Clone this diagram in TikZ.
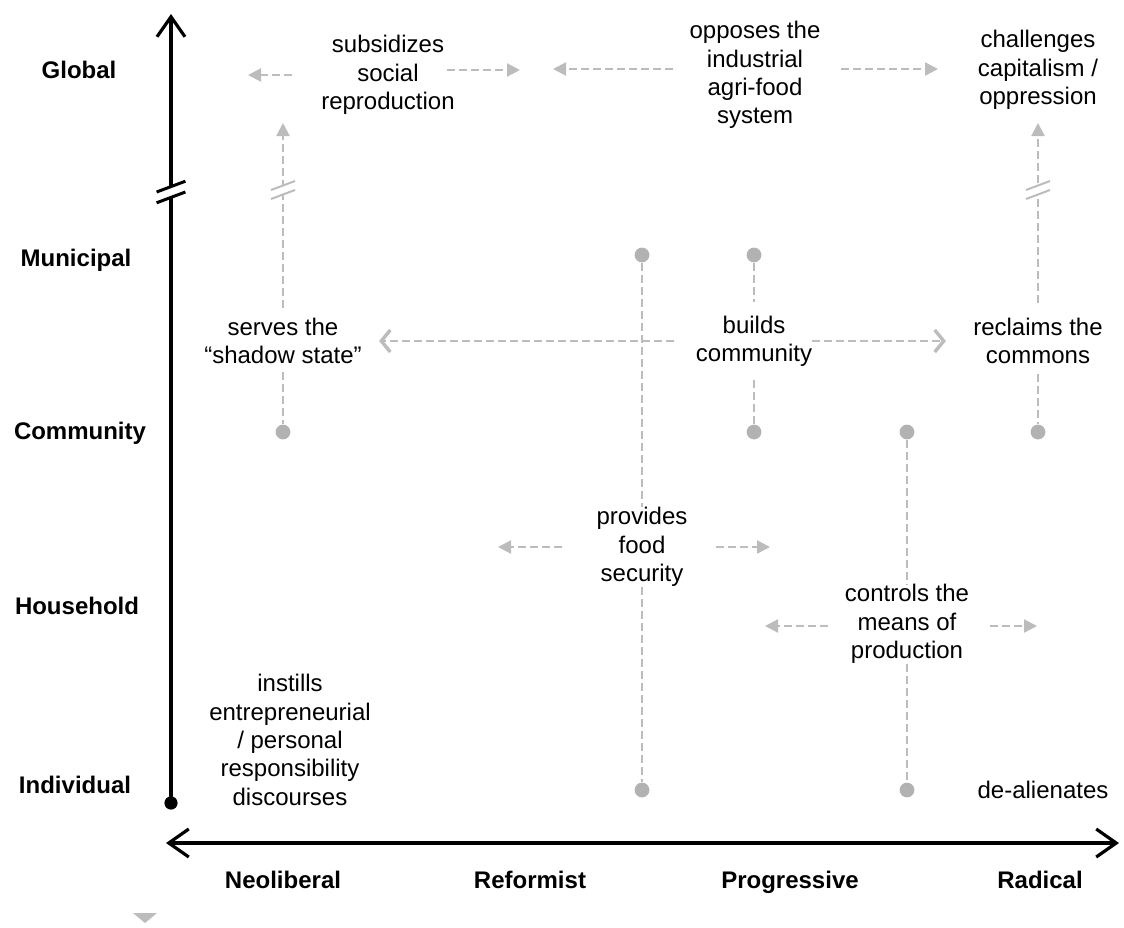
\documentclass[tikz,border=0pt]{standalone}
\usepackage{fontspec}
\setmainfont{Liberation Sans}
\usepackage{tikz}
\usetikzlibrary{arrows.meta}
\definecolor{linegray}{RGB}{188,188,188}
\definecolor{dotgray}{RGB}{178,178,178}
\newcommand{\brkmark}[3]{\begin{scope}[shift={(#1)},scale=#3]
	\fill[white] (-12,9) -- (12,0) -- (12,-9) -- (-12,0) -- cycle;
	\draw[#2] (-12,9) -- (12,0) (-12,0) -- (12,-9);
	\end{scope}}

\begin{document}
\begin{tikzpicture}[x=0.5pt,y=-0.5pt,
	txt/.style={align=center,inner sep=0pt,font=\fontsize{12}{14.2}\selectfont},
	lvl/.style={anchor=base,font=\fontsize{12}{14.2}\selectfont\bfseries},
	gline/.style={draw=linegray,line width=1.1pt,dash pattern=on 4pt off 2pt},
	garr/.style={gline,-{Triangle[length=6.5pt,width=6.5pt,fill=linegray]}},
	carr/.style={gline,-{Straight Barb[length=4.5pt,width=11pt,line width=1.7pt]}},
	gdot/.style={circle,fill=dotgray,inner sep=0pt,minimum size=7.4pt},
	axis/.style={line width=1.8pt,line cap=round}]
			\useasboundingbox (0,0) rectangle (1124,927);
			\node[circle,fill=black,inner sep=0pt,minimum size=6.6pt] (orig) at (171,803) {};
			\coordinate (ytip) at (171,14);
			\coordinate (xl) at (166,843);
			\coordinate (xr) at (1119,843);
			\draw[axis,-{Straight Barb[length=10pt,width=14pt,line width=1.6pt]}] (orig) -- (ytip);
			\draw[axis,{Straight Barb[length=10pt,width=14pt,line width=1.6pt]}-{Straight Barb[length=10pt,width=14pt,line width=1.6pt]}] (xl) -- (xr);
			\brkmark{171,192}{black,line width=1.5pt}{1.2}
			\node[lvl] (glob) at (79,78) {Global};
			\node[lvl] (muni) at (76,266) {Municipal};
			\node[lvl] (comm) at (80,439) {Community};
			\node[lvl] (hous) at (77,614) {Household};
			\node[lvl] (indi) at (75,793) {Individual};
			\node[lvl] (neol) at (283,888) {Neoliberal};
			\node[lvl] (refo) at (530,888) {Reformist};
			\node[lvl] (prog) at (790,888) {Progressive};
			\node[lvl] (radi) at (1040,888) {Radical};
			\node[txt] (subs) at (388,75) {subsidizes\\social\\reproduction};
			\node[txt] (opp) at (755,75) {opposes the\\industrial\\agri-food\\system};
			\node[txt] (chal) at (1038,70) {challenges\\capitalism /\\oppression};
			\node[txt] (serv) at (283,341) {serves the\\“shadow state”};
			\node[txt] (build) at (754,341) {builds\\community};
			\node[txt] (recl) at (1038,341) {reclaims the\\commons};
			\node[txt] (food) at (642,547) {provides\\food\\security};
			\node[txt] (ctrl) at (907,624) {controls the\\means of\\production};
			\node[txt] (inst) at (290,740) {instills\\entrepreneurial\\/ personal\\responsibility\\discourses};
			\node[txt] (deal) at (1043,790) {de-alienates};
			\node[gdot] (d1) at (642,255) {};
			\node[gdot] (d2) at (754,255) {};
			\node[gdot] (d3) at (283,432) {};
			\node[gdot] (d4) at (754,432) {};
			\node[gdot] (d5) at (907,432) {};
			\node[gdot] (d6) at (1038,432) {};
			\node[gdot] (d7) at (642,790) {};
			\node[gdot] (d8) at (907,790) {};
			\coordinate (st) at (283,123);
			\coordinate (ct) at (1038,123);
			\coordinate (sl) at (248,75);
			\coordinate (sr) at (520,70);
			\coordinate (ol) at (553,69);
			\coordinate (or) at (938,69);
			\coordinate (fl) at (498,547);
			\coordinate (fr) at (770,547);
			\coordinate (cl) at (765,626);
			\coordinate (cr) at (1037,626);
			\draw[garr,shorten <=14.5pt] (subs.west) -- (sl);
			\draw[garr,shorten <=-4pt] (subs.east |- sr) -- (sr);
			\draw[garr,shorten <=8pt] (opp.west |- ol) -- (ol);
			\draw[garr,shorten <=10pt] (opp.east |- or) -- (or);
			\draw[garr,shorten <=17pt] (food.west) -- (fl);
			\draw[garr,shorten <=14pt] (food.east) -- (fr);
			\draw[garr,shorten <=8.5pt] (ctrl.west |- cl) -- (cl);
			\draw[garr,shorten <=10.5pt] (ctrl.east |- cr) -- (cr);
			\draw[carr,shorten <=11pt,shorten >=8.5pt] (build) -- (serv);
			\draw[carr,shorten >=13.5pt] (build) -- (recl);
			\draw[gline] (d1) -- (food);
			\draw[gline] (food) -- (d7);
			\draw[gline,shorten >=6.5pt] (d2) -- (build);
			\draw[gline,shorten <=6.5pt] (build) -- (d4);
			\draw[gline,shorten <=4pt] (serv) -- (d3);
			\draw[gline,shorten <=5pt] (recl) -- (d6);
			\draw[gline] (d5) -- (ctrl);
			\draw[gline] (ctrl) -- (d8);
			\draw[garr,shorten <=5pt] (serv) -- (st);
			\draw[garr,shorten <=7.5pt] (recl) -- (ct);
			\brkmark{283,190}{linegray,line width=1pt}{1}
			\brkmark{1038,190}{linegray,line width=1pt}{1}
			\fill[linegray] (133,913) -- (157,913) -- (145,923) -- cycle;
		\end{tikzpicture}
\end{document}
